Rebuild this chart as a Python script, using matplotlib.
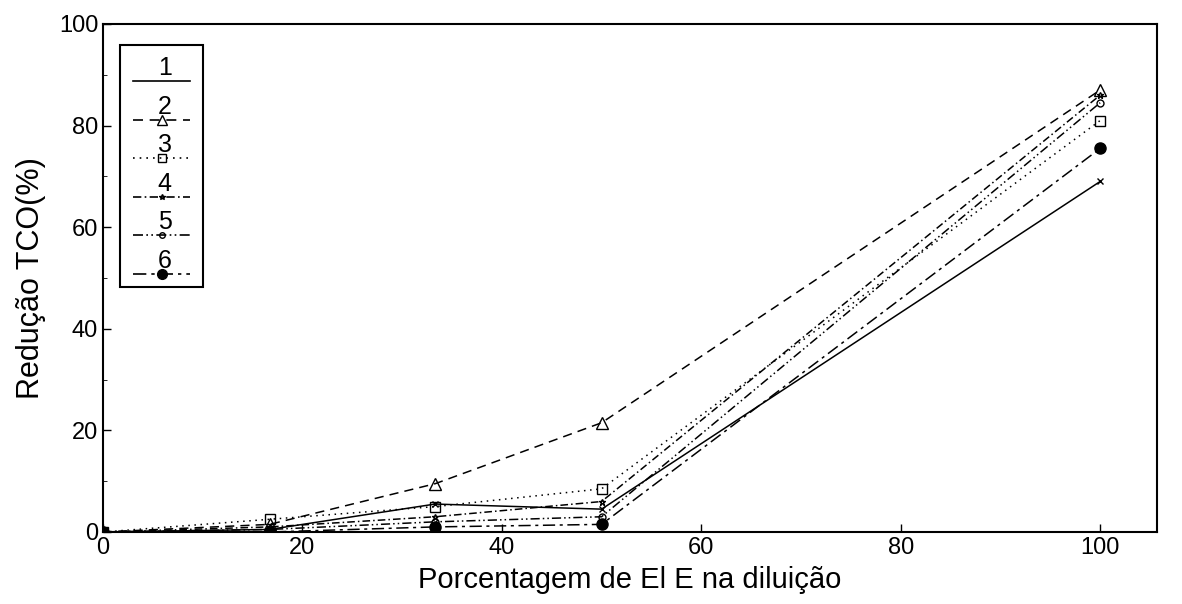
import numpy as np
import matplotlib.pyplot as plt
from matplotlib.lines import Line2D
from matplotlib.patches import Rectangle
from matplotlib.ticker import MultipleLocator

plt.rcParams['font.family'] = ['Liberation Sans', 'DejaVu Sans']

# Dilution percentages and TCO reduction for each sample
diluicao = [0, 16.7, 33.3, 50, 100]
serie_1 = [0, 0.5, 5.5, 4.5, 69]
serie_2 = [0, 1.5, 9.5, 21.5, 87]
serie_3 = [0, 2.5, 5.0, 8.5, 81]
serie_4 = [0, 1.0, 3.0, 6.0, 86]
serie_5 = [0, 0.5, 2.0, 3.0, 84.5]
serie_6 = [0, 0.0, 1.0, 1.5, 75.5]
rotulos = ['1', '2', '3', '4', '5', '6']

estilos = [
    dict(ls='-', marker='x', ms=5, mfc='none'),
    dict(ls=(0, (6, 4)), marker='^', ms=8, mfc='none'),
    dict(ls=(0, (1, 3)), marker='s', ms=7, mfc='none'),
    dict(ls=(0, (5, 2, 1, 2)), marker='*', ms=5, mfc='none'),
    dict(ls=(0, (6, 2, 1, 2, 1, 2)), marker='o', ms=5, mfc='none'),
    dict(ls=(0, (8, 3, 2, 3)), marker='o', ms=8, mfc='black'),
]
series = [serie_1, serie_2, serie_3, serie_4, serie_5, serie_6]

fig = plt.figure(figsize=(11.82, 6.04), dpi=100)
ax = fig.add_axes([103 / 1182, 1 - 532 / 604, (1157 - 103) / 1182, (532 - 24) / 604])

for y, st in zip(series, estilos):
    ax.plot(diluicao, y, color='black', lw=1.1, mec='black', **st)

ax.set_xlim(0, 105.7)
ax.set_ylim(0, 100)
ax.xaxis.set_major_locator(MultipleLocator(20))
ax.yaxis.set_major_locator(MultipleLocator(20))
ax.yaxis.set_minor_locator(MultipleLocator(10))
ax.tick_params(direction='in', length=6, width=1, labelsize=17)
ax.tick_params(which='minor', direction='in', length=3)
for s in ax.spines.values():
    s.set_linewidth(1.5)

ax.set_xlabel('Porcentagem de El E na diluição', fontsize=21, labelpad=5)
ax.set_ylabel('Redução TCO(%)', fontsize=22, labelpad=9)

# Hand-drawn style legend box: number above a line sample
lx0, lx1 = (120 - 103) / 1054, (203 - 103) / 1054
ly_top, ly_bot = (532 - 45) / 508, (532 - 287) / 508
ax.add_patch(Rectangle((lx0, ly_bot), lx1 - lx0, ly_top - ly_bot, transform=ax.transAxes,
                       fill=False, lw=1.5, ec='black', zorder=5))
passo = (ly_top - ly_bot) / 6.3
for i, (rot, st) in enumerate(zip(rotulos, estilos)):
    yl = ly_top - (i + 0.95) * passo
    ax.text((lx0 + lx1) / 2 + 0.003, yl + 0.002, rot, transform=ax.transAxes,
            ha='center', va='bottom', fontsize=18, zorder=6)
    ax.add_line(Line2D([lx0 + 0.012, lx1 - 0.012], [yl, yl], transform=ax.transAxes,
                       color='black', lw=1.2, ls=st['ls'], zorder=6))
    if i > 0:
        ax.add_line(Line2D([(lx0 + lx1) / 2], [yl], transform=ax.transAxes, color='black',
                           marker=st['marker'], ms=st['ms'] - 1, mfc=st['mfc'], mec='black',
                           ls='none', zorder=6))

fig.savefig('out.png', dpi=100)
